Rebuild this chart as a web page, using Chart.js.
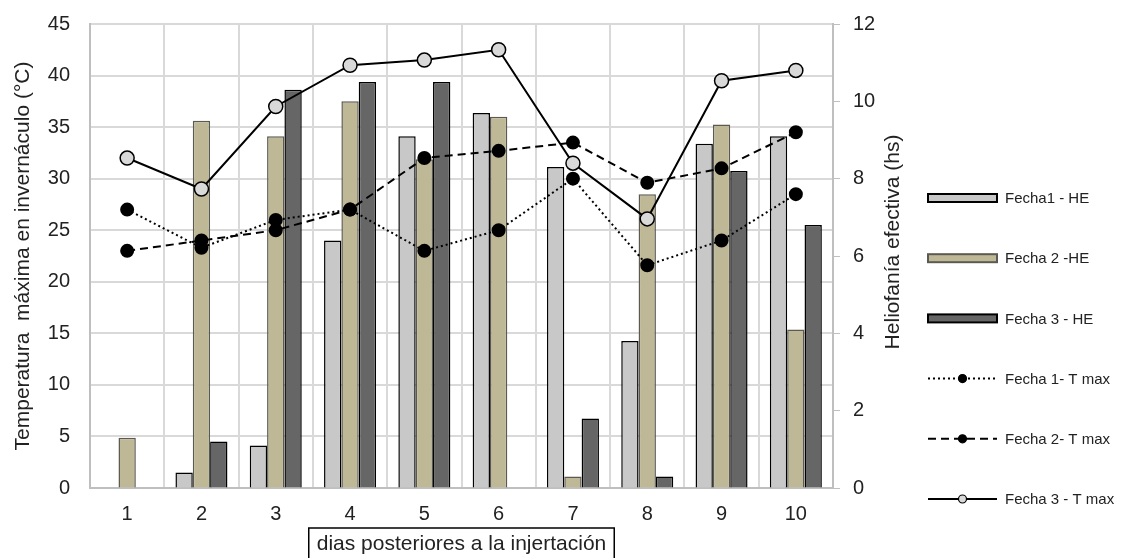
<!DOCTYPE html>
<html lang="es">
<head>
<meta charset="utf-8">
<title>Heliofanía y temperatura máxima</title>
<script src="https://cdn.jsdelivr.net/npm/chart.js@4.4.1/dist/chart.umd.min.js"></script>
<style>
    body { margin: 0; background: #ffffff; }
    #grafico { width: 1121px; height: 558px; }
</style>
</head>
<body>
<div id="grafico">
    <canvas id="myChartCanvas" width="1121" height="558"></canvas>
</div>
<script>
// dados
const dias = ['1', '2', '3', '4', '5', '6', '7', '8', '9', '10'];

// heliofania efectiva (hs) - eixo direito
const heFecha1 = [null, 0.4, 1.1, 6.4, 9.1, 9.7, 8.3, 3.8, 8.9, 9.1];
const heFecha2 = [1.3, 9.5, 9.1, 10.0, 8.5, 9.6, 0.3, 7.6, 9.4, 4.1];
const heFecha3 = [null, 1.2, 10.3, 10.5, 10.5, null, 1.8, 0.3, 8.2, 6.8];

// temperatura maxima (°C) - eixo esquerdo
const tmaxFecha1 = [27, 23.3, 26, 27, 23, 25, 30, 21.6, 24, 28.5];
const tmaxFecha2 = [23, 24, 25, 27, 32, 32.7, 33.5, 29.6, 31, 34.5];
const tmaxFecha3 = [32, 29, 37, 41, 41.5, 42.5, 31.5, 26.1, 39.5, 40.5];

const ticksTemp = [0, 5, 10, 15, 20, 25, 30, 35, 40, 45];
const ticksHoras = [0, 2, 4, 6, 8, 10, 12];

const fonte = "'Liberation Sans', Arial, sans-serif";
const corTexto = '#222222';
const corGrade = '#d9d9d9';

Chart.defaults.font.family = fonte;
Chart.defaults.color = corTexto;

// legenda desenhada a mao (amostra de linha com marcador no meio)
const legendaLateral = {
    id: 'legendaLateral',
    afterDraw(chart) {
        const ctx = chart.ctx;
        const x0 = 928, x1 = 997;
        const yInicio = 198, passo = 60.2;
        ctx.save();
        chart.data.datasets.forEach((ds, i) => {
            let y = yInicio + i * passo;
            if (ds.type == 'bar') {
                ctx.fillStyle = ds.backgroundColor;
                ctx.strokeStyle = ds.borderColor;
                ctx.lineWidth = 2;
                ctx.fillRect(x0, y - 4, x1 - x0, 8);
                ctx.strokeRect(x0, y - 4, x1 - x0, 8);
            } else {
                ctx.strokeStyle = '#000';
                ctx.lineWidth = 2;
                ctx.setLineDash(ds.borderDash || []);
                ctx.beginPath();
                ctx.moveTo(x0, y);
                ctx.lineTo(x1, y);
                ctx.stroke();
                ctx.setLineDash([]);
                ctx.beginPath();
                ctx.arc((x0 + x1) / 2, y, 4, 0, Math.PI * 2);
                ctx.fillStyle = ds.pointBackgroundColor;
                ctx.fill();
                ctx.lineWidth = 1.2;
                ctx.stroke();
            }
            ctx.fillStyle = corTexto;
            ctx.font = '15px ' + fonte;
            ctx.textAlign = 'left';
            ctx.textBaseline = 'middle';
            ctx.fillText(ds.label, 1005, y + 1);
        });

        // titulo do eixo direito (lido de baixo para cima)
        ctx.save();
        ctx.translate(893, 242);
        ctx.rotate(-Math.PI / 2);
        ctx.font = '21px ' + fonte;
        ctx.textAlign = 'center';
        ctx.textBaseline = 'middle';
        ctx.fillStyle = corTexto;
        ctx.fillText('Heliofanía efectiva (hs)', 0, 0);
        ctx.restore();

        // titulo do eixo x dentro de uma caixa
        const area = chart.chartArea;
        const titulo = 'dias posteriores a la injertación';
        ctx.font = '21px ' + fonte;
        let larg = ctx.measureText(titulo).width;
        let cx = (area.left + area.right) / 2;
        ctx.strokeStyle = '#000';
        ctx.lineWidth = 1.5;
        ctx.strokeRect(cx - larg / 2 - 8, 528, larg + 16, 40);
        ctx.fillStyle = corTexto;
        ctx.textAlign = 'center';
        ctx.textBaseline = 'alphabetic';
        ctx.fillText(titulo, cx, 550);
        ctx.restore();
    }
};

// largura fixa dos eixos verticais, sem folga extra em cima
function ajustarEixoY(s) {
    s.width = 90;
    s.paddingTop = 0;
    s.paddingBottom = 0;
}

function plotarGrafico() {
    const dados = {
        labels: dias,
        datasets: [
            {
                type: 'bar', label: 'Fecha1 - HE', data: heFecha1, yAxisID: 'y1',
                backgroundColor: '#c8c8c8', borderColor: '#000000', borderWidth: 1.5, order: 2
            },
            {
                type: 'bar', label: 'Fecha 2 -HE', data: heFecha2, yAxisID: 'y1',
                backgroundColor: '#bfb896', borderColor: '#5a5a52', borderWidth: 1.5, order: 2
            },
            {
                type: 'bar', label: 'Fecha 3 - HE', data: heFecha3, yAxisID: 'y1',
                backgroundColor: '#666666', borderColor: '#000000', borderWidth: 1.5, order: 2
            },
            {
                type: 'line', label: 'Fecha 1- T max', data: tmaxFecha1, yAxisID: 'y',
                borderColor: '#000', borderWidth: 2, borderDash: [2, 3],
                pointRadius: 6, pointBackgroundColor: '#000', pointBorderColor: '#000',
                tension: 0, order: 1
            },
            {
                type: 'line', label: 'Fecha 2- T max', data: tmaxFecha2, yAxisID: 'y',
                borderColor: '#000', borderWidth: 2, borderDash: [8, 5],
                pointRadius: 6, pointBackgroundColor: '#000', pointBorderColor: '#000',
                tension: 0, order: 1
            },
            {
                type: 'line', label: 'Fecha 3 - T max', data: tmaxFecha3, yAxisID: 'y',
                borderColor: '#000', borderWidth: 2,
                pointRadius: 7, pointBackgroundColor: '#d9d9d9', pointBorderColor: '#000',
                pointBorderWidth: 1.5, tension: 0, order: 0
            }
        ]
    };

    const config = {
        type: 'bar',
        data: dados,
        options: {
            responsive: false,
            animation: false,
            layout: { padding: { top: 24, right: 198, left: 0, bottom: 0 } },
            datasets: { bar: { categoryPercentage: 0.7, barPercentage: 1.0 } },
            plugins: { legend: { display: false }, tooltip: { enabled: false } },
            scales: {
                x: {
                    offset: true,
                    grid: { offset: true, color: corGrade, lineWidth: 2, drawTicks: false },
                    border: { color: '#bfbfbf', width: 2 },
                    ticks: { font: { size: 20 }, padding: 14, color: corTexto },
                    afterFit: (s) => { s.height = 70; }
                },
                y: {
                    position: 'left',
                    min: 0, max: 45,
                    afterBuildTicks: (s) => { s.ticks = ticksTemp.map(v => ({ value: v })); },
                    grid: { color: corGrade, lineWidth: 2, drawTicks: false },
                    border: { color: '#bfbfbf', width: 2 },
                    ticks: { font: { size: 20 }, padding: 20, color: corTexto },
                    title: {
                        display: true, text: 'Temperatura  máxima en invernáculo (°C)',
                        font: { size: 21 }, padding: { top: 11 }, color: corTexto
                    },
                    afterFit: ajustarEixoY
                },
                y1: {
                    position: 'right',
                    min: 0, max: 12,
                    afterBuildTicks: (s) => { s.ticks = ticksHoras.map(v => ({ value: v })); },
                    grid: { drawOnChartArea: false, color: '#bfbfbf', tickLength: 7 },
                    border: { color: '#bfbfbf', width: 2 },
                    ticks: { font: { size: 20 }, padding: 13, color: corTexto },
                    afterFit: ajustarEixoY
                }
            }
        },
        plugins: [legendaLateral]
    };

    let myChart = new Chart(document.getElementById('myChartCanvas'), config);
}

plotarGrafico();
</script>
</body>
</html>
